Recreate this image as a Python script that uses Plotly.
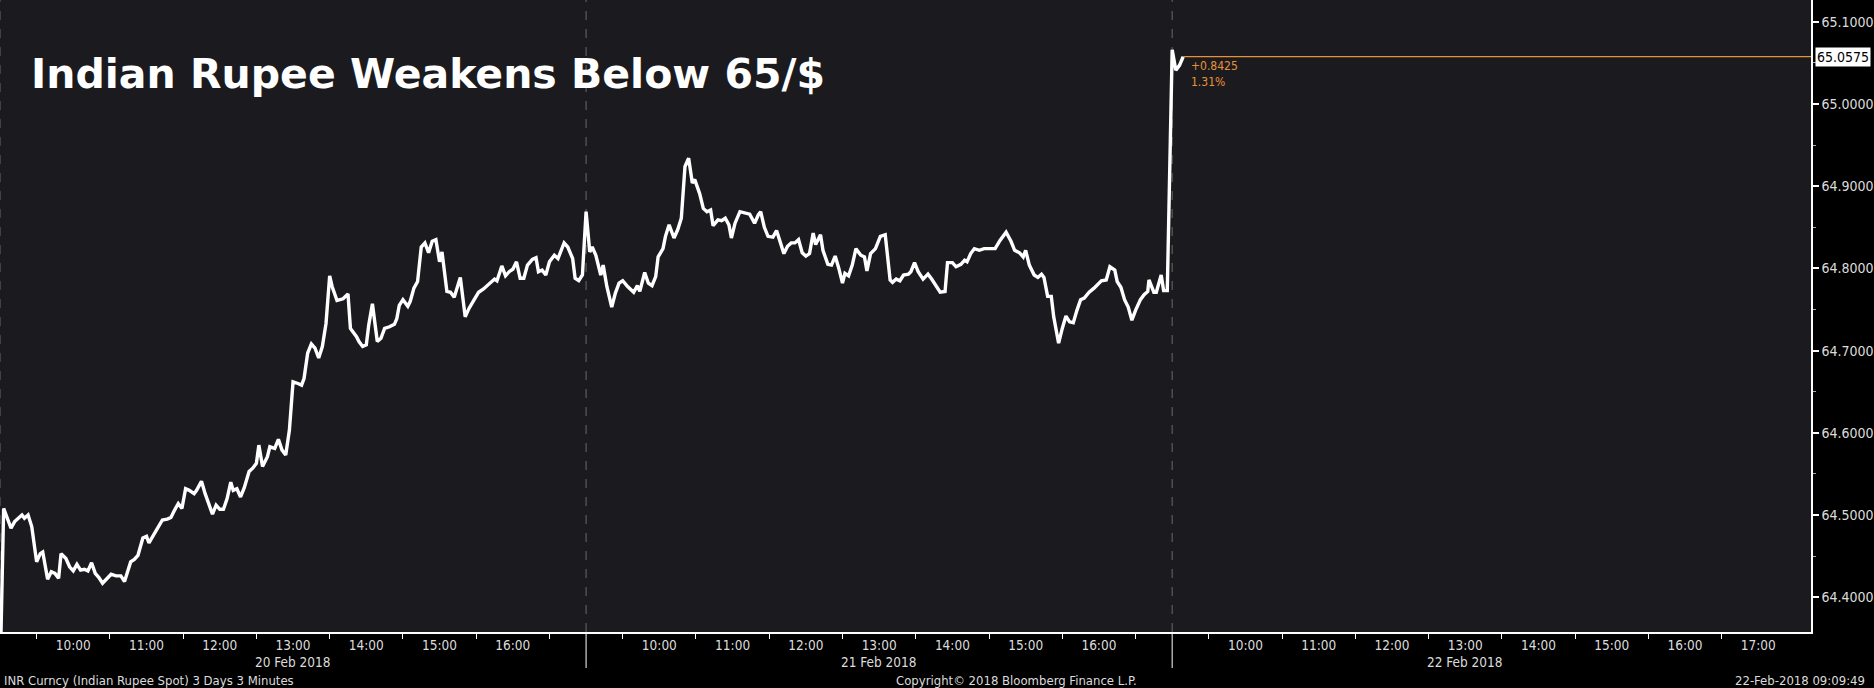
import plotly.graph_objects as go

# ---------------- data ----------------
title_text = "Indian Rupee Weakens Below 65/$"
day_labels = ["20 Feb 2018", "21 Feb 2018", "22 Feb 2018"]
session_open_hour = 9
session_hours = 8

# minutes after 09:00 and INR per USD
day1_minutes = [0, 3, 9, 12, 18, 20, 23, 26, 30, 33, 35, 39, 42, 45, 48, 50, 54, 57, 60, 63, 66, 69, 72, 75,
                78, 81, 84, 88, 91, 95, 99, 102, 107, 110, 113, 117, 120, 122, 126, 129, 133, 137, 140, 143,
                146, 149, 152, 155, 159, 161, 165, 168, 172, 174, 177, 180, 183, 186, 189, 191, 194, 197, 200,
                204, 207, 210, 212, 215, 219, 221, 225, 228, 231, 234, 237, 240, 244, 247, 249, 252, 255, 258,
                261, 264, 267, 270, 272, 276, 281, 285, 287, 292, 294, 297, 300, 302, 305, 307, 309, 312, 315,
                319, 323, 325, 327, 330, 334, 336, 339, 342, 345, 348, 351, 354, 357, 360, 362, 366, 369, 372,
                375, 377, 381, 384, 388, 392, 396, 400, 405, 407, 411, 414, 417, 420, 423, 426, 429, 432, 436,
                439, 441, 444, 447, 450, 454, 457, 462, 465, 469, 471, 474, 477]
day1_values = [64.300, 64.508, 64.484, 64.492, 64.500, 64.496, 64.500, 64.486, 64.443, 64.453, 64.455, 64.422,
               64.431, 64.429, 64.423, 64.453, 64.447, 64.437, 64.432, 64.440, 64.433, 64.434, 64.432, 64.442,
               64.429, 64.424, 64.417, 64.424, 64.428, 64.426, 64.426, 64.419, 64.443, 64.446, 64.451, 64.472,
               64.474, 64.466, 64.476, 64.484, 64.494, 64.495, 64.497, 64.506, 64.514, 64.508, 64.532, 64.530,
               64.526, 64.530, 64.541, 64.526, 64.510, 64.501, 64.512, 64.507, 64.507, 64.520, 64.540, 64.530,
               64.532, 64.522, 64.533, 64.553, 64.557, 64.563, 64.585, 64.559, 64.571, 64.583, 64.581, 64.592,
               64.579, 64.573, 64.603, 64.662, 64.660, 64.658, 64.666, 64.697, 64.708, 64.703, 64.691, 64.705,
               64.733, 64.791, 64.778, 64.761, 64.763, 64.769, 64.727, 64.717, 64.711, 64.705, 64.707, 64.731,
               64.757, 64.733, 64.711, 64.715, 64.727, 64.729, 64.732, 64.739, 64.755, 64.762, 64.754, 64.760,
               64.776, 64.784, 64.826, 64.831, 64.819, 64.833, 64.835, 64.808, 64.820, 64.772, 64.771, 64.765,
               64.780, 64.789, 64.741, 64.751, 64.761, 64.771, 64.775, 64.780, 64.787, 64.785, 64.803, 64.791,
               64.796, 64.799, 64.808, 64.788, 64.788, 64.804, 64.811, 64.813, 64.796, 64.798, 64.792, 64.808,
               64.816, 64.812, 64.831, 64.826, 64.812, 64.788, 64.785, 64.792]

day2_minutes = [0, 3, 5, 8, 12, 14, 17, 21, 24, 27, 30, 34, 36, 39, 42, 44, 48, 51, 54, 57, 59, 63, 65, 68,
                72, 75, 78, 81, 84, 87, 89, 93, 96, 99, 102, 104, 108, 111, 114, 117, 119, 122, 126, 130, 134,
                138, 141, 143, 146, 149, 153, 156, 159, 162, 165, 168, 171, 174, 177, 180, 183, 186, 188, 192,
                194, 198, 201, 204, 207, 210, 212, 215, 218, 221, 225, 228, 230, 233, 237, 241, 245, 249, 251,
                254, 257, 260, 264, 266, 269, 272, 276, 280, 283, 287, 290, 294, 296, 300, 303, 307, 310, 312,
                315, 318, 322, 326, 331, 335, 339, 344, 348, 351, 355, 358, 360, 363, 367, 370, 373, 375, 378,
                381, 383, 387, 390, 393, 396, 399, 402, 405, 408, 412, 416, 419, 422, 426, 429, 433, 435, 438,
                441, 444, 447, 450, 454, 457, 460, 461, 465, 467, 471, 473, 476]
day2_values = [64.869, 64.820, 64.826, 64.816, 64.792, 64.804, 64.778, 64.753, 64.770, 64.782, 64.785, 64.778,
               64.775, 64.771, 64.779, 64.772, 64.795, 64.782, 64.779, 64.790, 64.814, 64.824, 64.839, 64.853,
               64.837, 64.847, 64.861, 64.924, 64.934, 64.904, 64.908, 64.891, 64.873, 64.869, 64.871, 64.852,
               64.859, 64.858, 64.861, 64.853, 64.837, 64.855, 64.869, 64.868, 64.866, 64.855, 64.865, 64.869,
               64.850, 64.839, 64.838, 64.846, 64.833, 64.818, 64.827, 64.831, 64.831, 64.835, 64.819, 64.815,
               64.818, 64.843, 64.829, 64.841, 64.822, 64.805, 64.804, 64.815, 64.800, 64.782, 64.794, 64.791,
               64.804, 64.824, 64.816, 64.814, 64.797, 64.818, 64.824, 64.839, 64.841, 64.786, 64.783, 64.787,
               64.785, 64.792, 64.793, 64.796, 64.807, 64.796, 64.787, 64.793, 64.787, 64.778, 64.771, 64.772,
               64.807, 64.807, 64.802, 64.805, 64.810, 64.808, 64.818, 64.824, 64.822, 64.824, 64.824, 64.824,
               64.834, 64.844, 64.833, 64.822, 64.819, 64.814, 64.822, 64.804, 64.792, 64.789, 64.793, 64.789,
               64.766, 64.766, 64.741, 64.709, 64.727, 64.742, 64.735, 64.734, 64.749, 64.762, 64.764, 64.771,
               64.776, 64.781, 64.785, 64.786, 64.802, 64.798, 64.784, 64.777, 64.762, 64.753, 64.737, 64.749,
               64.762, 64.768, 64.772, 64.786, 64.771, 64.771, 64.792, 64.773, 64.773]

day3_minutes = [0, 3, 6, 9]
day3_values = [65.066, 65.041, 65.047, 65.0575]

change_abs = 0.8425
change_pct = 1.31

day1_hours = [10, 11, 12, 13, 14, 15, 16]
day2_hours = [10, 11, 12, 13, 14, 15, 16]
day3_hours = [10, 11, 12, 13, 14, 15, 16, 17]
date_label_hour = 13

y_ticks = [64.4, 64.5, 64.6, 64.7, 64.8, 64.9, 65.0, 65.1]
y_minor = [64.45, 64.55, 64.65, 64.75, 64.85, 64.95, 65.05]
y_range = [64.3577, 65.1265]
x_end = 24.72  # hours of session axis shown

footer_left = "INR Curncy (Indian Rupee Spot) 3 Days 3 Minutes"
footer_mid = "Copyright\u00a9 2018 Bloomberg Finance L.P."
footer_right = "22-Feb-2018 09:09:49"

# ---------------- styling ----------------
W, H = 1874, 688
M_L, M_R, M_T, M_B = 0, 59, 0, 56
PLOT_W = W - M_L - M_R
PLOT_H = H - M_T - M_B
PLOT_BG = "#1b1b1f"
PAPER_BG = "#000000"
ORANGE = "#e8913a"
TXT = "#dcdcdc"
FONT = "DejaVu Sans Condensed, Liberation Sans Narrow, Arial Narrow, DejaVu Sans, sans-serif"

def sx(day_idx, minutes):
    return day_idx * session_hours + minutes / 60.0

xs, ys = [], []
for d, (mins, vals) in enumerate([(day1_minutes, day1_values), (day2_minutes, day2_values),
                                   (day3_minutes, day3_values)]):
    for m, v in zip(mins, vals):
        xs.append(sx(d, m))
        ys.append(v)

fig = go.Figure()
fig.add_trace(go.Scatter(x=xs, y=ys, mode="lines",
                         line=dict(color="white", width=3.4), hoverinfo="skip", showlegend=False))

# x tick labels
tickvals, ticktext = [], []
for d, hours in enumerate([day1_hours, day2_hours, day3_hours]):
    for h in hours:
        tickvals.append(sx(d, (h - session_open_hour) * 60))
        ticktext.append(f"{h}:00")
minor_vals = []
for d in range(3):
    h = 0.5
    while sx(d, h * 60) < min((d + 1) * session_hours, x_end):
        minor_vals.append(sx(d, h * 60))
        h += 1

fig.update_xaxes(range=[0, x_end], tickmode="array", tickvals=tickvals, ticktext=ticktext,
                 ticks="", showgrid=False, zeroline=False, showline=True, linecolor="white", linewidth=1.5,
                 tickfont=dict(family=FONT, size=13.5, color=TXT), ticklabelstandoff=0,
                 minor=dict(tickmode="array", tickvals=minor_vals, ticks="outside", ticklen=5,
                            tickcolor="white", tickwidth=1, showgrid=False))
fig.update_yaxes(range=y_range, side="right", tickmode="array", tickvals=y_ticks,
                 ticktext=[f"{v:.4f}" for v in y_ticks], ticks="outside", ticklen=6, tickwidth=2,
                 tickcolor="white", showgrid=False, zeroline=False, showline=True, linecolor="white",
                 linewidth=1.5, tickfont=dict(family=FONT, size=14, color=TXT),
                 minor=dict(tickmode="array", tickvals=y_minor, ticks="outside", ticklen=3,
                            tickcolor="#aaaaaa", tickwidth=1, showgrid=False))

shapes = []
for d in range(3):
    xb = d * session_hours
    shapes.append(dict(type="line", xref="x", yref="paper", x0=xb, x1=xb, y0=0, y1=1,
                       line=dict(color="#6a6a6a", width=1, dash="dash"), layer="below"))
    if d > 0:
        shapes.append(dict(type="line", xref="x", yref="paper", x0=xb, x1=xb, y0=0, y1=-36 / PLOT_H,
                           line=dict(color="white", width=1)))
# last-value orange line
shapes.append(dict(type="line", xref="x", yref="y", x0=xs[-1], x1=x_end, y0=ys[-1], y1=ys[-1],
                   line=dict(color=ORANGE, width=1.2)))

def py(pix):
    return (PLOT_H - pix) / PLOT_H

annotations = [
    dict(text=title_text, xref="paper", yref="paper", x=29 / PLOT_W, y=py(74), xanchor="left",
         yanchor="middle", showarrow=False,
         font=dict(family="DejaVu Sans, Verdana, sans-serif", size=41, color="white", weight="bold")),
    dict(text=f"+{change_abs:.4f}<br>{change_pct:.2f}%", xref="x", yref="y", x=xs[-1], y=ys[-1],
         xanchor="left", yanchor="top", xshift=6, yshift=0, align="left", showarrow=False,
         font=dict(family=FONT, size=12, color=ORANGE)),
    dict(text=f"{ys[-1]:.4f}", xref="paper", yref="y", x=1, y=ys[-1], xanchor="left", yanchor="middle",
         xshift=4, showarrow=False, bgcolor="white", borderpad=1,
         font=dict(family=FONT, size=14, color="black")),
    dict(text=footer_left, xref="paper", yref="paper", x=2 / PLOT_W, y=py(680.5), xanchor="left",
         yanchor="middle", showarrow=False, font=dict(family=FONT, size=13, color=TXT)),
    dict(text=footer_mid, xref="paper", yref="paper", x=1019 / PLOT_W, y=py(680.5), xanchor="center",
         yanchor="middle", showarrow=False, font=dict(family=FONT, size=13, color=TXT)),
    dict(text=footer_right, xref="paper", yref="paper", x=1871 / PLOT_W, y=py(680.5), xanchor="right",
         yanchor="middle", showarrow=False, font=dict(family=FONT, size=13, color=TXT)),
]
for d, lab in enumerate(day_labels):
    annotations.append(dict(text=lab, xref="x", yref="paper",
                            x=sx(d, (date_label_hour - session_open_hour) * 60), y=py(661.5),
                            xanchor="center", yanchor="middle", showarrow=False,
                            font=dict(family=FONT, size=13.5, color=TXT)))

fig.update_layout(width=W, height=H, margin=dict(l=M_L, r=M_R, t=M_T, b=M_B),
                  plot_bgcolor=PLOT_BG, paper_bgcolor=PAPER_BG, shapes=shapes,
                  annotations=annotations, showlegend=False)

fig.write_html("out.html", config={"displayModeBar": False},
               post_script="document.body.style.margin='0';document.body.style.background='#000';")
